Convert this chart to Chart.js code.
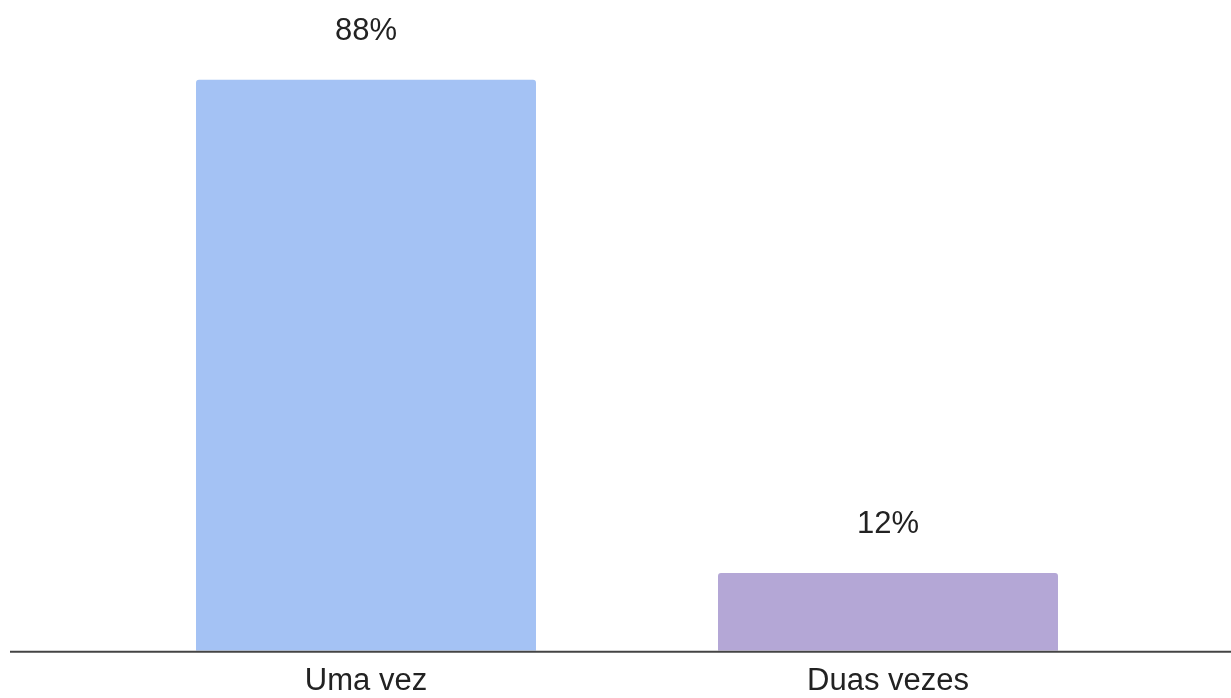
<!DOCTYPE html>
<html>
<head>
<meta charset="utf-8">
<script src="https://cdn.jsdelivr.net/npm/chart.js@4/dist/chart.umd.min.js"></script>
<style>
  html, body { margin: 0; padding: 0; background: #fff; }
  #wrap { width: 1231px; height: 698px; position: relative; }
</style>
</head>
<body>
<div id="wrap"><canvas id="chart"></canvas></div>
<script>
// chart data
const categories = ['Uma vez', 'Duas vezes'];
const percentages = [88, 12];
const barColors = ['#a4c2f4', '#b4a7d6'];

const FONT = '"Liberation Sans", Arial, sans-serif';

// value labels above the bars
const valueLabels = {
  id: 'valueLabels',
  afterDatasetsDraw(chart) {
    const ctx = chart.ctx;
    const meta = chart.getDatasetMeta(0);
    ctx.save();
    ctx.font = '31px ' + FONT;
    ctx.fillStyle = '#222';
    ctx.textAlign = 'center';
    ctx.textBaseline = 'alphabetic';
    meta.data.forEach((bar, i) => {
      ctx.fillText(percentages[i] + '%', bar.x, bar.y - 39.5);
    });
    ctx.restore();
  }
};

// long baseline that runs past the plot area
const baseline = {
  id: 'baseline',
  afterDatasetsDraw(chart) {
    const ctx = chart.ctx;
    const y = chart.scales.y.getPixelForValue(0) + 1;
    ctx.save();
    ctx.strokeStyle = '#444';
    ctx.lineWidth = 2;
    ctx.beginPath();
    ctx.moveTo(10, y);
    ctx.lineTo(chart.width, y);
    ctx.stroke();
    ctx.restore();
  }
};

new Chart(document.getElementById('chart'), {
  type: 'bar',
  data: {
    labels: categories,
    datasets: [{
      data: percentages,
      backgroundColor: barColors,
      borderRadius: { topLeft: 3, topRight: 3 },
      borderSkipped: 'bottom',
      categoryPercentage: 1,
      barPercentage: 0.6513
    }]
  },
  options: {
    responsive: true,
    maintainAspectRatio: false,
    animation: false,
    layout: { padding: { left: 105, right: 82, top: 2, bottom: -14 } },
    plugins: {
      legend: { display: false },
      tooltip: { enabled: false }
    },
    scales: {
      x: {
        grid: { display: false, drawTicks: false },
        border: { display: false },
        ticks: {
          color: '#222',
          padding: 12,
          font: { family: FONT, size: 31 }
        }
      },
      y: {
        display: false,
        min: 0,
        max: 100
      }
    }
  },
  plugins: [valueLabels, baseline]
});
</script>
</body>
</html>
